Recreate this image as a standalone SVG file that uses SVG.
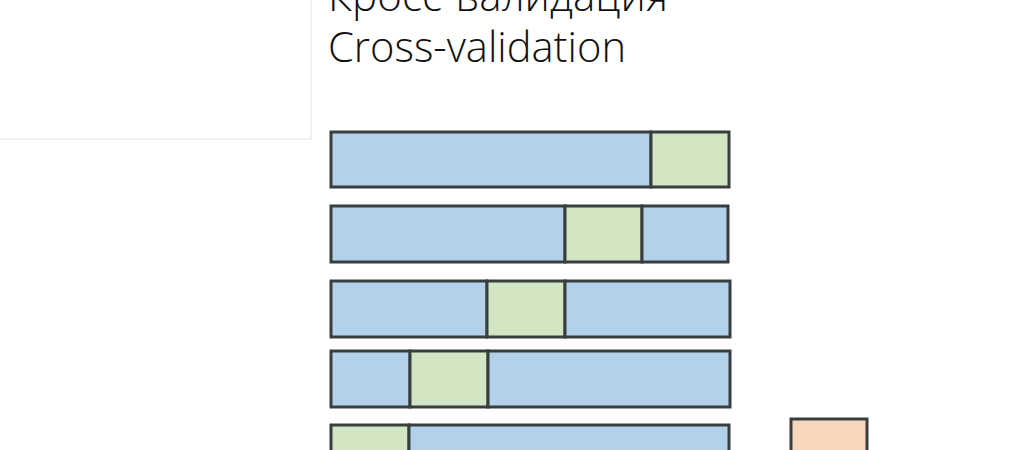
<svg xmlns="http://www.w3.org/2000/svg" width="1024" height="450" viewBox="0 0 1024 450">
<style>
.t{font-family:"Open Sans","Liberation Sans",sans-serif;font-weight:300;font-size:42px;fill:#111}
.b{fill:#b4d1ea;stroke:#383e3e;stroke-width:3}
.g{fill:#d3e6c3;stroke:#383e3e;stroke-width:3}
.o{fill:#f8d6bb;stroke:#383e3e;stroke-width:3}
</style>
<rect width="1024" height="450" fill="#fff"/>
<g id="panel"><rect x="-5" y="-5" width="316" height="144" fill="#fff" stroke="#e2e2e2" stroke-width="1"/></g>
<g id="title">
<text class="t" x="328" y="11" textLength="340" lengthAdjust="spacingAndGlyphs">Кросс-валидация</text>
<text class="t" x="328" y="62" textLength="298" lengthAdjust="spacingAndGlyphs">Cross-validation</text>
</g>
<g id="row1"><rect class="b" x="331" y="132" width="320" height="55"/><rect class="g" x="651" y="132" width="78" height="55"/></g>
<g id="row2"><rect class="b" x="331" y="206" width="234" height="56"/><rect class="g" x="565" y="206" width="77" height="56"/><rect class="b" x="642" y="206" width="86" height="56"/></g>
<g id="row3"><rect class="b" x="331" y="281" width="156" height="56"/><rect class="g" x="487" y="281" width="78" height="56"/><rect class="b" x="565" y="281" width="165" height="56"/></g>
<g id="row4"><rect class="b" x="331" y="351" width="79" height="56"/><rect class="g" x="410" y="351" width="78" height="56"/><rect class="b" x="488" y="351" width="242" height="56"/></g>
<g id="row5"><rect class="g" x="331" y="425" width="78" height="56"/><rect class="b" x="409" y="425" width="320" height="56"/></g>
<g id="test"><rect class="o" x="791" y="419" width="76" height="56"/></g>
<g id="connectors"></g>
</svg>
